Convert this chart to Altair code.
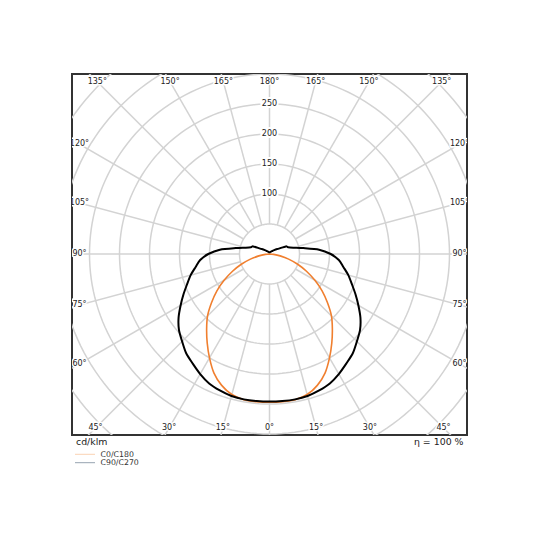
import altair as alt
import pandas as pd

# ---------------- data ----------------
GAMMA = list(range(0, 185, 5))  # polar angle in degrees (0 = straight down)

# C0/C180 plane intensities (cd/klm), 0..90 deg
C0_C180 = [247, 247, 246.5, 242.5, 233, 219, 200, 181, 163, 146,
           126, 107, 87, 68, 50, 33, 18, 7, 0]

# C90/C270 plane intensities (cd/klm), 0..180 deg
C90_C270 = [246, 246, 246, 245, 242, 238, 231, 223, 216, 206,
            197, 185, 171, 158, 146, 136, 125, 116, 102,
            83, 57, 41, 33, 30, 18, 14, 10, 8, 6,
            5, 4.5, 4, 3.5, 3, 3, 3, 3]

RINGS = [50, 100, 150, 200, 250, 300, 350, 400, 450, 500]
RING_LABELS = [100, 150, 200, 250]
SPOKES = list(range(0, 360, 15))
ANGLE_LABELS = [0, 15, 30, 45, 60, 75, 90, 105, 120, 135, 150, 165, 180]

SERIES = ["C0/C180", "C90/C270"]
LINE_COLORS = ["#f07f2f", "#000000"]
LEGEND_COLORS = ["#fbd3b3", "#97a3b1"]
UNIT_TEXT = "cd/klm"
ETA_TEXT = "η = 100 %"

FONT = "DejaVu Sans"
XDOM = [-329.17, 329.17]
YDOM = [-301.67, 300.0]


def X(field="x"):
    return alt.X(f"{field}:Q", scale=alt.Scale(domain=XDOM, nice=False, zero=False), axis=None)


def Y(field="y"):
    return alt.Y(f"{field}:Q", scale=alt.Scale(domain=YDOM, nice=False, zero=False), axis=None)


# ---------------- tables built from the arrays ----------------
curve_rows = []
for name, vals in zip(SERIES, [C0_C180, C90_C270]):
    g = GAMMA[: len(vals)]
    order = 0
    for i in reversed(range(len(vals))):
        curve_rows.append({"series": name, "g": -g[i], "I": vals[i], "ord": order})
        order += 1
    for i in range(1, len(vals)):
        curve_rows.append({"series": name, "g": g[i], "I": vals[i], "ord": order})
        order += 1
curves = pd.DataFrame(curve_rows)

ring_rows = []
for R in RINGS:
    for phi in range(0, 362, 2):
        ring_rows.append({"R": R, "phi": phi})
rings = pd.DataFrame(ring_rows)

spokes = pd.DataFrame({"a": SPOKES})

lab_rows = []
for a in ANGLE_LABELS:
    sides = [1] if a in (0, 180) else [-1, 1]
    for s in sides:
        lab_rows.append({"a": a, "s": s, "txt": f"{a}°"})
angle_labels = pd.DataFrame(lab_rows)

ring_labels = pd.DataFrame({"v": RING_LABELS, "txt": [str(v) for v in RING_LABELS]})

# ---------------- layers ----------------
ring_layer = alt.Chart(rings).mark_line(
    color="#d3d3d3", strokeWidth=1.5, clip=True
).transform_calculate(
    x="datum.R*cos(datum.phi*PI/180)", y="datum.R*sin(datum.phi*PI/180)"
).encode(x=X(), y=Y(), detail="R:N", order="phi:Q")

spoke_layer = alt.Chart(spokes).mark_rule(
    color="#d3d3d3", strokeWidth=1.5, clip=True
).transform_calculate(
    x="50*sin(datum.a*PI/180)", y="-50*cos(datum.a*PI/180)",
    x2="800*sin(datum.a*PI/180)", y2="-800*cos(datum.a*PI/180)"
).encode(x=X(), y=Y(), x2="x2:Q", y2="y2:Q")

ring_lab_base = alt.Chart(ring_labels).transform_calculate(
    x="0", y="datum.v"
).encode(x=X(), y=Y(), text="txt:N")
ring_lab_halo = ring_lab_base.mark_text(
    font=FONT, fontSize=8, color="white", stroke="white", strokeWidth=4,
    baseline="middle", align="center"
)
ring_lab_text = ring_lab_base.mark_text(
    font=FONT, fontSize=8, color="#222222", baseline="middle", align="center"
)

ang_base = alt.Chart(angle_labels).transform_calculate(
    ux="datum.s*sin(datum.a*PI/180)", uy="-cos(datum.a*PI/180)"
).transform_calculate(
    hy="datum.uy > 0 ? 287 : 290"
).transform_calculate(
    t="min(316.7/max(abs(datum.ux),1e-9), datum.hy/max(abs(datum.uy),1e-9))"
).transform_calculate(
    x="datum.t*datum.ux", y="datum.t*datum.uy"
).encode(x=X(), y=Y(), text="txt:N")
ang_halo = ang_base.mark_text(
    font=FONT, fontSize=8, color="white", stroke="white", strokeWidth=3,
    baseline="middle", align="center", clip=True
)
ang_text = ang_base.mark_text(
    font=FONT, fontSize=8, color="#222222", baseline="middle", align="center", clip=True
)

curve_layers = []
for name, col, w in zip(SERIES, LINE_COLORS, [1.6, 2.0]):
    curve_layers.append(
        alt.Chart(curves).transform_filter(alt.datum.series == name).transform_calculate(
            x="datum.I*sin(datum.g*PI/180)", y="-datum.I*cos(datum.g*PI/180)"
        ).mark_line(color=col, strokeWidth=w, clip=True, interpolate="cardinal",
                    tension=0.2).encode(
            x=X(), y=Y(), order="ord:Q"
        )
    )

one = pd.DataFrame({"k": [0]})
unit_text = alt.Chart(one).mark_text(
    font=FONT, fontSize=9.4, color="#222222", align="left", baseline="middle"
).encode(x=alt.value(4), y=alt.value(368), text=alt.value(UNIT_TEXT))
eta_text = alt.Chart(one).mark_text(
    font=FONT, fontSize=9.4, color="#222222", align="right", baseline="middle"
).encode(x=alt.value(391.5), y=alt.value(368), text=alt.value(ETA_TEXT))

legend_layers = []
for i, (name, col) in enumerate(zip(SERIES, LEGEND_COLORS)):
    yy = 380.3 + i * 8.4
    legend_layers.append(
        alt.Chart(one).mark_rule(color=col, strokeWidth=1).encode(
            x=alt.value(3), x2=alt.value(23), y=alt.value(yy)
        )
    )
    legend_layers.append(
        alt.Chart(one).mark_text(
            font=FONT, fontSize=7.8, color="#333333", align="left", baseline="middle"
        ).encode(x=alt.value(28.5), y=alt.value(yy + 0.5), text=alt.value(name))
    )

chart = alt.layer(
    ring_layer, spoke_layer, ring_lab_halo, ring_lab_text, ang_halo, ang_text,
    *curve_layers, unit_text, eta_text, *legend_layers
).properties(
    width=395, height=361,
    padding={"left": 64, "top": 66, "right": 20, "bottom": 50},
    autosize=alt.AutoSizeParams(type="none"),
).configure_view(stroke="#333333", strokeWidth=2)

chart.save("out.html", embed_options={"renderer": "svg", "actions": False})
